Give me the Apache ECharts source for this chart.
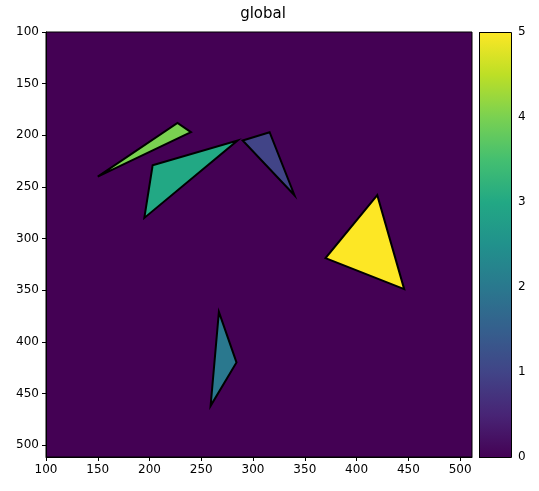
<!DOCTYPE html>
<html>
<head>
<meta charset="utf-8">
<script src="https://cdn.jsdelivr.net/npm/echarts@6/dist/echarts.min.js"></script>
<style>html,body{margin:0;padding:0;background:#fff}#c{width:539px;height:491px}</style>
</head>
<body>
<div id="c"></div>
<script>
// ---- data ----
const title = 'global';
const xTicks = [100,150,200,250,300,350,400,450,500];
const yTicks = [100,150,200,250,300,350,400,450,500];
const cbTicks = [0,1,2,3,4,5];
const triValues = [4, 3, 1, 2, 5];
const triXs = [[150,227,240],[203,285,195],[290,316,340],[267,284,259],[420,370,446]];
const triYs = [[240,188,197],[229,205,280],[205,197,258],[371,420,462],[258,319,349]];
const vMin = 0, vMax = 5;

// ---- colormap (viridis) ----
const viridis = ['#440154','#482475','#414487','#355f8d','#2a788e','#21918c','#22a884','#44bf70','#7ad151','#bddf26','#fde725'];
function hex2rgb(h){return [parseInt(h.slice(1,3),16),parseInt(h.slice(3,5),16),parseInt(h.slice(5,7),16)];}
function cmap(t){
  t = Math.max(0, Math.min(1, t));
  const p = t*(viridis.length-1), i = Math.min(Math.floor(p), viridis.length-2), f = p-i;
  const a = hex2rgb(viridis[i]), b = hex2rgb(viridis[i+1]);
  return 'rgb(' + a.map((v,k)=>Math.round(v+(b[k]-v)*f)).join(',') + ')';
}

const triData = triValues.map((v,i)=>[i, v]);

const chart = echarts.init(document.getElementById('c'), null, {renderer:'canvas'});
const axisFont = {color:'#000', fontSize:12, fontFamily:'DejaVu Sans'};
chart.setOption({
  animation:false,
  backgroundColor:'#fff',
  title:{text:title, left:258, top:2, textAlign:'center',
    textStyle:{fontSize:15, fontWeight:'normal', color:'#000', fontFamily:'DejaVu Sans'}},
  grid:[
    {left:46, top:32, width:426, height:425, show:true, backgroundColor:'#440154', borderColor:'#000', borderWidth:1, z:0},
    {left:479, top:32, width:32, height:425, show:false}
  ],
  xAxis:[
    {type:'value', gridIndex:0, min:100, max:511.5, position:'bottom',
     axisLine:{show:true, lineStyle:{color:'#000'}},
     axisTick:{show:true, length:4, customValues:xTicks, lineStyle:{color:'#000'}},
     axisLabel:Object.assign({customValues:xTicks, margin:7}, axisFont),
     splitLine:{show:false}},
    {type:'value', gridIndex:1, min:0, max:1, show:false}
  ],
  yAxis:[
    {type:'value', gridIndex:0, min:100, max:511.5, inverse:true,
     axisLine:{show:true, lineStyle:{color:'#000'}},
     axisTick:{show:true, length:4, customValues:yTicks, lineStyle:{color:'#000'}},
     axisLabel:Object.assign({customValues:yTicks, margin:7}, axisFont),
     splitLine:{show:false}},
    {type:'value', gridIndex:1, min:vMin, max:vMax, position:'right',
     axisLine:{show:false},
     axisTick:{show:true, length:4, customValues:cbTicks, lineStyle:{color:'#000'}},
     axisLabel:Object.assign({customValues:cbTicks, margin:7}, axisFont),
     splitLine:{show:false}}
  ],
  series:[
    {type:'custom', xAxisIndex:0, yAxisIndex:0, data:triData, clip:true, z:2,
     renderItem:function(params, api){
       const i = api.value(0), v = api.value(1);
       const pts = triXs[i].map((x,k)=>api.coord([x, triYs[i][k]]));
       return {type:'polygon', shape:{points:pts},
         style:{fill:cmap((v-vMin)/(vMax-vMin)), stroke:'#000', lineWidth:2, lineJoin:'miter'}};
     }},
    {type:'custom', xAxisIndex:1, yAxisIndex:1, data:[[0, vMin]], z:1,
     renderItem:function(params, api){
       const p0 = api.coord([0, vMax]), p1 = api.coord([1, vMin]);
       const stops = viridis.map((c,k)=>({offset:k/(viridis.length-1), color:c}));
       return {type:'rect', shape:{x:p0[0]+0.5, y:p0[1]+0.5, width:p1[0]-p0[0], height:p1[1]-p0[1]},
         style:{fill:{type:'linear', x:0, y:1, x2:0, y2:0, colorStops:stops}, stroke:'#000', lineWidth:1}};
     }}
  ]
});
</script>
</body>
</html>
